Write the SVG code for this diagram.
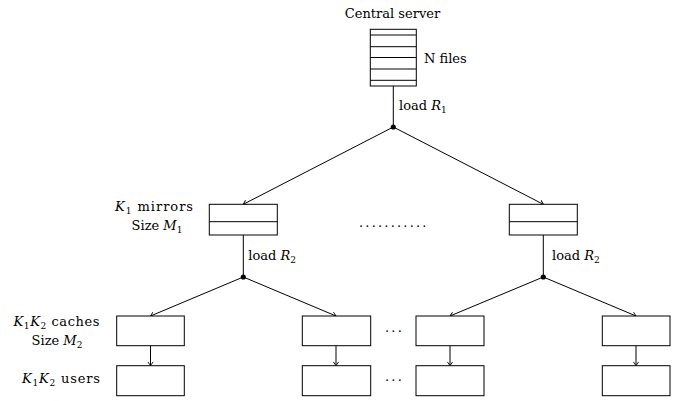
<svg xmlns="http://www.w3.org/2000/svg" width="681" height="401" viewBox="0 0 681 401">
<style>
.box{fill:#fff;stroke:#000;stroke-width:1}
.ln{fill:none;stroke:#000;stroke-width:1}
.t{font-family:"DejaVu Serif","Liberation Serif",serif;font-size:13px;fill:#000}
.i{font-style:italic}
.s{font-size:9px}
.dot{fill:#000}
</style>
<defs>
<marker id="arr" viewBox="-5 -4 6 8" refX="0" refY="0" markerWidth="6" markerHeight="8" orient="auto" markerUnits="userSpaceOnUse">
<path d="M-3.8,-2.6 Q-1.2,-0.8 0,0 Q-1.2,0.8 -3.8,2.6" fill="none" stroke="#000" stroke-width="0.9"/>
</marker>
</defs>
<rect width="681" height="401" fill="#fff"/>

<g id="connectors">
<line class="ln" x1="393.3" y1="86" x2="393.3" y2="127"/>
<line class="ln" x1="393.3" y1="127" x2="243.3" y2="204.3" marker-end="url(#arr)"/>
<line class="ln" x1="393.3" y1="127" x2="543.3" y2="204.3" marker-end="url(#arr)"/>
<line class="ln" x1="243.3" y1="235" x2="243.3" y2="277"/>
<line class="ln" x1="543.3" y1="235" x2="543.3" y2="277"/>
<line class="ln" x1="243.3" y1="277" x2="150.5" y2="316" marker-end="url(#arr)"/>
<line class="ln" x1="243.3" y1="277" x2="336" y2="316" marker-end="url(#arr)"/>
<line class="ln" x1="543.3" y1="277" x2="450" y2="316" marker-end="url(#arr)"/>
<line class="ln" x1="543.3" y1="277" x2="636" y2="316" marker-end="url(#arr)"/>
<line class="ln" x1="150.5" y1="345.7" x2="150.5" y2="365.7" marker-end="url(#arr)"/>
<line class="ln" x1="336" y1="345.7" x2="336" y2="365.7" marker-end="url(#arr)"/>
<line class="ln" x1="450" y1="345.7" x2="450" y2="365.7" marker-end="url(#arr)"/>
<line class="ln" x1="636" y1="345.7" x2="636" y2="365.7" marker-end="url(#arr)"/>
<circle class="dot" cx="393.3" cy="127" r="2.6"/>
<circle class="dot" cx="243.3" cy="277" r="2.6"/>
<circle class="dot" cx="543.3" cy="277" r="2.6"/>
<text class="t" x="399" y="110">load <tspan class="i">R</tspan><tspan class="s" dy="3">1</tspan></text>
<text class="t" x="248.3" y="260">load <tspan class="i">R</tspan><tspan class="s" dy="3">2</tspan></text>
<text class="t" x="552" y="260">load <tspan class="i">R</tspan><tspan class="s" dy="3">2</tspan></text>
</g>

<g id="server">
<text class="t" x="392.5" y="18" text-anchor="middle">Central server</text>
<rect class="box" x="370.3" y="29.3" width="46" height="56.7"/>
<line class="ln" x1="370.3" y1="35" x2="416.3" y2="35"/>
<line class="ln" x1="370.3" y1="46.7" x2="416.3" y2="46.7"/>
<line class="ln" x1="370.3" y1="57.5" x2="416.3" y2="57.5"/>
<line class="ln" x1="370.3" y1="69" x2="416.3" y2="69"/>
<line class="ln" x1="370.3" y1="80.3" x2="416.3" y2="80.3"/>
<text class="t" x="424" y="63">N files</text>
</g>

<g id="mirror1">
<rect class="box" x="209.3" y="204.3" width="68" height="30.7"/>
<line class="ln" x1="209.3" y1="221.7" x2="277.3" y2="221.7"/>
<text class="t" x="115" y="211" textLength="78" lengthAdjust="spacing"><tspan class="i">K</tspan><tspan class="s" dy="3">1</tspan><tspan dy="-3"> mirrors</tspan></text>
<text class="t" x="157" y="229.5" text-anchor="middle">Size <tspan class="i">M</tspan><tspan class="s" dy="3">1</tspan></text>
</g>

<g id="mirror-dots">
<text class="t" x="359" y="227" letter-spacing="2.2">...........</text>
</g>

<g id="mirror2">
<rect class="box" x="509.3" y="204.3" width="68" height="30.7"/>
<line class="ln" x1="509.3" y1="221.7" x2="577.3" y2="221.7"/>
</g>

<g id="cache-labels">
<text class="t" x="13.5" y="326" textLength="86" lengthAdjust="spacing"><tspan class="i">K</tspan><tspan class="s" dy="3">1</tspan><tspan class="i" dy="-3">K</tspan><tspan class="s" dy="3">2</tspan><tspan dy="-3"> caches</tspan></text>
<text class="t" x="57" y="344.5" text-anchor="middle">Size <tspan class="i">M</tspan><tspan class="s" dy="3">2</tspan></text>
<text class="t" x="22" y="382.5" textLength="78" lengthAdjust="spacing"><tspan class="i">K</tspan><tspan class="s" dy="3">1</tspan><tspan class="i" dy="-3">K</tspan><tspan class="s" dy="3">2</tspan><tspan dy="-3"> users</tspan></text>
</g>

<g id="cache1"><rect class="box" x="116.7" y="316" width="67.6" height="29.7"/></g>
<g id="cache2"><rect class="box" x="302.3" y="316" width="68.4" height="29.7"/></g>
<g id="cache3"><rect class="box" x="416" y="316" width="68" height="29.7"/></g>
<g id="cache4"><rect class="box" x="602.3" y="316" width="67.7" height="29.7"/></g>
<g id="user1"><rect class="box" x="116.7" y="365.7" width="67.6" height="30"/></g>
<g id="user2"><rect class="box" x="302.3" y="365.7" width="68.4" height="30"/></g>
<g id="user3"><rect class="box" x="416" y="365.7" width="68" height="30"/></g>
<g id="user4"><rect class="box" x="602.3" y="365.7" width="67.7" height="30"/></g>

<g id="row-dots">
<text class="t" x="385" y="336" letter-spacing="2.2">···</text>
<text class="t" x="385" y="385" letter-spacing="2.2">···</text>
</g>
</svg>
